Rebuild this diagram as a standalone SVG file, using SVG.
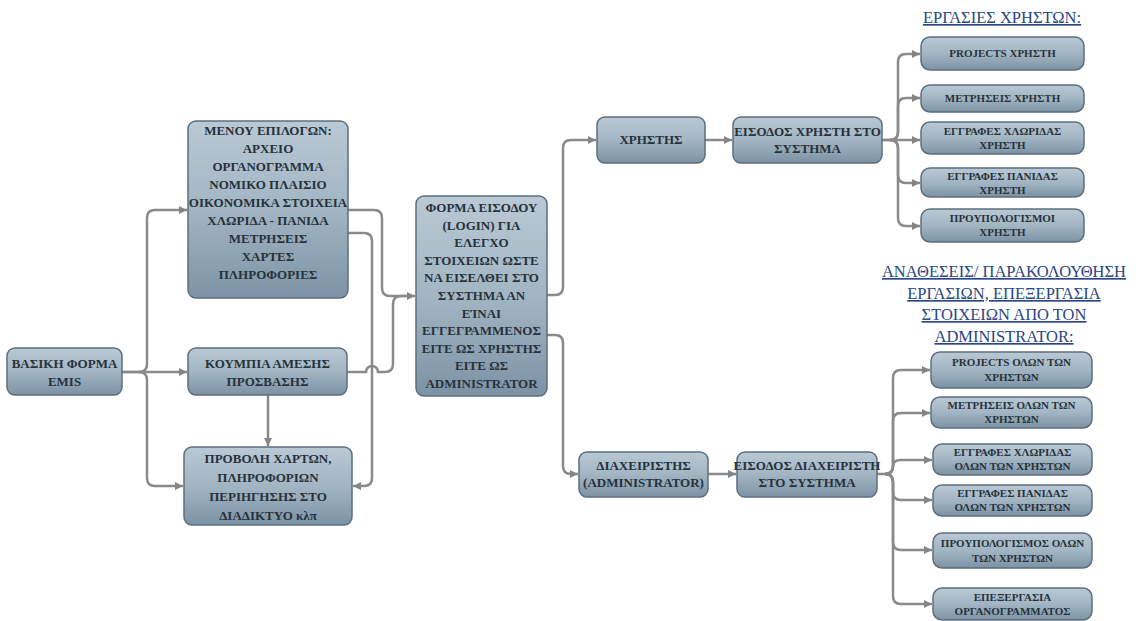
<svg xmlns="http://www.w3.org/2000/svg" width="1136" height="621" viewBox="0 0 1136 621">
<defs>
<linearGradient id="g" x1="0" y1="0" x2="0" y2="1">
<stop offset="0" stop-color="#b9c9d5"/>
<stop offset="0.5" stop-color="#a2b5c3"/>
<stop offset="1" stop-color="#7c93a5"/>
</linearGradient>
<marker id="arr" markerUnits="userSpaceOnUse" markerWidth="10" markerHeight="10" refX="8" refY="4" orient="auto">
<path d="M0,0 L8,4 L0,8 z" fill="#858585"/>
</marker>
<style>
.box{fill:url(#g);stroke:#5d6e7c;stroke-width:1.5}
.t{font-weight:bold;fill:#27323b;text-anchor:middle}
.big{font-size:13px}
.sm{font-size:11px}
.hd{font-size:16.5px;fill:#2a4683;text-anchor:middle;text-decoration:underline}
.c{fill:none;stroke:#8a8a8a;stroke-width:2.5}
.a{marker-end:url(#arr)}
</style>
</defs>
<rect width="1136" height="621" fill="#ffffff"/>

<g id="connectors">
<path class="c a" d="M122,372 H139 Q147,372 147,364 V218 Q147,210 155,210 H187"/>
<path class="c a" d="M122,372 H187"/>
<path class="c a" d="M139,372 Q147,372 147,380 V478 Q147,486 155,486 H183"/>
<path class="c a" d="M348,210 H374 Q382,210 382,218 V288 Q382,296 390,296 H415"/>
<path class="c" d="M347,372 H366 A6,6 0 0 1 378,372 H385 Q393,372 393,364 V304 Q393,296 401,296 H406"/>
<path class="c a" d="M348,233 H364 Q372,233 372,241 V478 Q372,486 364,486 H353"/>
<path class="c a" d="M268,395 V446"/>
<path class="c a" d="M547,295 H555 Q563,295 563,287 V148 Q563,140 571,140 H596"/>
<path class="c a" d="M547,335 H555 Q563,335 563,343 V466 Q563,474 571,474 H578"/>
<path class="c a" d="M705,140 H732"/>
<path class="c a" d="M708,474 H736"/>
<path class="c a" d="M882,140 H890 Q898,140 898,132 V62 Q898,54 906,54 H920"/>
<path class="c a" d="M890,140 Q898,140 898,132 V106 Q898,98 906,98 H920"/>
<path class="c a" d="M882,140 H920"/>
<path class="c a" d="M890,140 Q898,140 898,148 V175 Q898,183 906,183 H920"/>
<path class="c a" d="M890,140 Q898,140 898,148 V218 Q898,226 906,226 H920"/>
<path class="c a" d="M877,474 H885 Q893,474 893,466 V378 Q893,370 901,370 H930"/>
<path class="c a" d="M885,474 Q893,474 893,466 V421 Q893,413 901,413 H930"/>
<path class="c a" d="M885,474 Q893,474 893,466 Q893,460 901,460 H932"/>
<path class="c a" d="M885,474 Q893,474 893,482 V492 Q893,500 901,500 H932"/>
<path class="c a" d="M885,474 Q893,474 893,482 V542 Q893,550 901,550 H932"/>
<path class="c a" d="M885,474 Q893,474 893,482 V596 Q893,604 901,604 H932"/>
</g>

<g font-family="Liberation Serif, Times New Roman, DejaVu Serif, serif">
<g id="n-basic">
<rect class="box" x="7" y="348" width="115" height="47" rx="8"/>
<text class="t big" x="64.5" y="368">ΒΑΣΙΚΗ ΦΟΡΜΑ</text>
<text class="t big" x="64.5" y="386">EMIS</text>
</g>

<g id="n-menu">
<rect class="box" x="188" y="121" width="160" height="177" rx="8"/>
<text class="t big" x="268" y="135">ΜΕΝΟΥ ΕΠΙΛΟΓΩΝ:</text>
<text class="t big" x="268" y="153">ΑΡΧΕΙΟ</text>
<text class="t big" x="268" y="171">ΟΡΓΑΝΟΓΡΑΜΜΑ</text>
<text class="t big" x="268" y="189">ΝΟΜΙΚΟ ΠΛΑΙΣΙΟ</text>
<text class="t big" x="268" y="207">ΟΙΚΟΝΟΜΙΚΑ ΣΤΟΙΧΕΙΑ</text>
<text class="t big" x="268" y="225">ΧΛΩΡΙΔΑ  - ΠΑΝΙΔΑ</text>
<text class="t big" x="268" y="243">ΜΕΤΡΗΣΕΙΣ</text>
<text class="t big" x="268" y="261">ΧΑΡΤΕΣ</text>
<text class="t big" x="268" y="279">ΠΛΗΡΟΦΟΡΙΕΣ</text>
</g>

<g id="n-buttons">
<rect class="box" x="188" y="348" width="159" height="47" rx="8"/>
<text class="t big" x="267.5" y="368">ΚΟΥΜΠΙΑ ΑΜΕΣΗΣ</text>
<text class="t big" x="267.5" y="386">ΠΡΟΣΒΑΣΗΣ</text>
</g>

<g id="n-maps">
<rect class="box" x="184" y="447" width="168" height="78" rx="8"/>
<text class="t big" x="268" y="463">ΠΡΟΒΟΛΗ ΧΑΡΤΩΝ,</text>
<text class="t big" x="268" y="482">ΠΛΗΡΟΦΟΡΙΩΝ</text>
<text class="t big" x="268" y="501">ΠΕΡΙΗΓΗΣΗΣ ΣΤΟ</text>
<text class="t big" x="268" y="520">ΔΙΑΔΙΚΤΥΟ κλπ</text>
</g>

<g id="n-login">
<rect class="box" x="416" y="196" width="131" height="200" rx="8"/>
<text class="t big" x="481.5" y="212">ΦΟΡΜΑ ΕΙΣΟΔΟΥ</text>
<text class="t big" x="481.5" y="229.6">(LOGIN) ΓΙΑ</text>
<text class="t big" x="481.5" y="247.2">ΕΛΕΓΧΟ</text>
<text class="t big" x="481.5" y="264.8">ΣΤΟΙΧΕΙΩΝ ΩΣΤΕ</text>
<text class="t big" x="481.5" y="282.4">ΝΑ ΕΙΣΕΛΘΕΙ ΣΤΟ</text>
<text class="t big" x="481.5" y="300">ΣΥΣΤΗΜΑ ΑΝ</text>
<text class="t big" x="481.5" y="317.6">ΕΊΝΑΙ</text>
<text class="t big" x="481.5" y="335.2">ΕΓΓΕΓΡΑΜΜΕΝΟΣ</text>
<text class="t big" x="481.5" y="352.8">ΕΙΤΕ ΩΣ ΧΡΗΣΤΗΣ</text>
<text class="t big" x="481.5" y="370.4">ΕΙΤΕ ΩΣ</text>
<text class="t big" x="481.5" y="388">ADMINISTRATOR</text>
</g>

<g id="n-user">
<rect class="box" x="597" y="117" width="108" height="46" rx="8"/>
<text class="t big" x="651" y="144">ΧΡΗΣΤΗΣ</text>
</g>

<g id="n-user-login">
<rect class="box" x="733" y="117" width="149" height="46" rx="8"/>
<text class="t big" x="807.5" y="136">ΕΙΣΟΔΟΣ ΧΡΗΣΤΗ ΣΤΟ</text>
<text class="t big" x="807.5" y="153">ΣΥΣΤΗΜΑ</text>
</g>

<g id="n-admin">
<rect class="box" x="579" y="452" width="129" height="45" rx="8"/>
<text class="t big" x="643.5" y="470">ΔΙΑΧΕΙΡΙΣΤΗΣ</text>
<text class="t big" x="643.5" y="487">(ADMINISTRATOR)</text>
</g>

<g id="n-admin-login">
<rect class="box" x="737" y="452" width="140" height="45" rx="8"/>
<text class="t big" x="807" y="470">ΕΙΣΟΔΟΣ ΔΙΑΧΕΙΡΙΣΤΗ</text>
<text class="t big" x="807" y="487">ΣΤΟ ΣΥΣΤΗΜΑ</text>
</g>

<g id="h-user">
<text class="hd" x="1002" y="23">ΕΡΓΑΣΙΕΣ ΧΡΗΣΤΩΝ:</text>
</g>

<g id="u1">
<rect class="box" x="921" y="37" width="163" height="33" rx="9"/>
<text class="t sm" x="1002.5" y="57">PROJECTS ΧΡΗΣΤΗ</text>
</g>
<g id="u2">
<rect class="box" x="921" y="85" width="163" height="27" rx="9"/>
<text class="t sm" x="1002.5" y="102">ΜΕΤΡΗΣΕΙΣ ΧΡΗΣΤΗ</text>
</g>
<g id="u3">
<rect class="box" x="921" y="122" width="163" height="32" rx="9"/>
<text class="t sm" x="1002.5" y="135">ΕΓΓΡΑΦΕΣ ΧΛΩΡΙΔΑΣ</text>
<text class="t sm" x="1002.5" y="149">ΧΡΗΣΤΗ</text>
</g>
<g id="u4">
<rect class="box" x="921" y="168" width="163" height="29" rx="9"/>
<text class="t sm" x="1002.5" y="180">ΕΓΓΡΑΦΕΣ ΠΑΝΙΔΑΣ</text>
<text class="t sm" x="1002.5" y="194">ΧΡΗΣΤΗ</text>
</g>
<g id="u5">
<rect class="box" x="921" y="209" width="163" height="33" rx="9"/>
<text class="t sm" x="1002.5" y="222">ΠΡΟΥΠΟΛΟΓΙΣΜΟΙ</text>
<text class="t sm" x="1002.5" y="236">ΧΡΗΣΤΗ</text>
</g>

<g id="h-admin">
<text class="hd" x="1004" y="277">ΑΝΑΘΕΣΕΙΣ/ ΠΑΡΑΚΟΛΟΥΘΗΣΗ</text>
<text class="hd" x="1004" y="299">ΕΡΓΑΣΙΩΝ, ΕΠΕΞΕΡΓΑΣΙΑ</text>
<text class="hd" x="1004" y="320">ΣΤΟΙΧΕΙΩΝ ΑΠΟ ΤΟΝ</text>
<text class="hd" x="1004" y="342">ADMINISTRATOR:</text>
</g>

<g id="a1">
<rect class="box" x="931" y="352" width="161" height="36" rx="9"/>
<text class="t sm" x="1011.5" y="366">PROJECTS ΟΛΩΝ ΤΩΝ</text>
<text class="t sm" x="1011.5" y="381">ΧΡΗΣΤΩΝ</text>
</g>
<g id="a2">
<rect class="box" x="931" y="397" width="161" height="31" rx="9"/>
<text class="t sm" x="1011.5" y="409">ΜΕΤΡΗΣΕΙΣ ΟΛΩΝ ΤΩΝ</text>
<text class="t sm" x="1011.5" y="423">ΧΡΗΣΤΩΝ</text>
</g>
<g id="a3">
<rect class="box" x="933" y="444" width="159" height="31" rx="9"/>
<text class="t sm" x="1012.5" y="456">ΕΓΓΡΑΦΕΣ ΧΛΩΡΙΔΑΣ</text>
<text class="t sm" x="1012.5" y="470">ΟΛΩΝ ΤΩΝ ΧΡΗΣΤΩΝ</text>
</g>
<g id="a4">
<rect class="box" x="933" y="485" width="159" height="31" rx="9"/>
<text class="t sm" x="1012.5" y="497">ΕΓΓΡΑΦΕΣ ΠΑΝΙΔΑΣ</text>
<text class="t sm" x="1012.5" y="511">ΟΛΩΝ ΤΩΝ ΧΡΗΣΤΩΝ</text>
</g>
<g id="a5">
<rect class="box" x="933" y="533" width="159" height="35" rx="9"/>
<text class="t sm" x="1012.5" y="547">ΠΡΟΥΠΟΛΟΓΙΣΜΟΣ ΟΛΩΝ</text>
<text class="t sm" x="1012.5" y="562">ΤΩΝ ΧΡΗΣΤΩΝ</text>
</g>
<g id="a6">
<rect class="box" x="933" y="588" width="159" height="32" rx="9"/>
<text class="t sm" x="1012.5" y="601">ΕΠΕΞΕΡΓΑΣΙΑ</text>
<text class="t sm" x="1012.5" y="615">ΟΡΓΑΝΟΓΡΑΜΜΑΤΟΣ</text>
</g>
</g>
</svg>
